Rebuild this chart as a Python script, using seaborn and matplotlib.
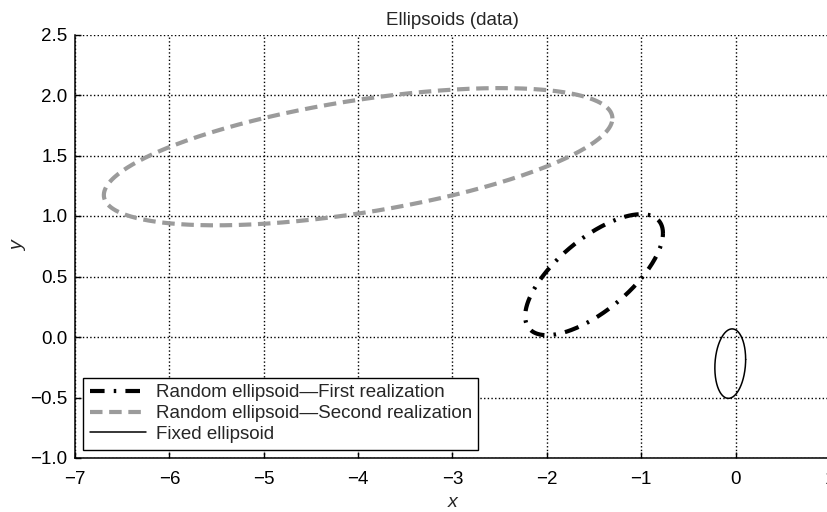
import matplotlib
matplotlib.use("Agg")
import matplotlib.pyplot as plt
import numpy as np
import seaborn as sns
import pandas as pd

# ===== ellipsoid parameters (center + shape matrix) =====
labels = ['Random ellipsoid\u2014First realization',
          'Random ellipsoid\u2014Second realization',
          'Fixed ellipsoid']
centers_x = [-1.50, -4.00, -0.057]
centers_y = [0.515, 1.49, -0.22]
q11 = [0.533, 7.26, 0.0266]
q12 = [0.250, 0.854, 0.0057]
q22 = [0.250, 0.3215, 0.0824]

x_ticks = [-7, -6, -5, -4, -3, -2, -1, 0, 1]
y_ticks = [-1.0, -0.5, 0.0, 0.5, 1.0, 1.5, 2.0, 2.5]

# ===== boundary points of each ellipsoid =====
t = np.linspace(0, 2 * np.pi, 400)
frames = []
for i in range(3):
    Q = np.array([[q11[i], q12[i]], [q12[i], q22[i]]])
    L = np.linalg.cholesky(Q)
    pts = L @ np.vstack([np.cos(t), np.sin(t)])
    frames.append(pd.DataFrame({'x': centers_x[i] + pts[0],
                                'y': centers_y[i] + pts[1],
                                'name': labels[i]}))

sns.set_style("ticks")
plt.rcParams['font.family'] = ['Liberation Sans', 'DejaVu Sans']
plt.rcParams['font.size'] = 13.5

fig = plt.figure(figsize=(8.28, 5.12), dpi=100)
ax = fig.add_axes([75 / 828, 54 / 512, 755 / 828, 423.5 / 512])

styles = [dict(color='black', linewidth=3, linestyle=(0, (3.5, 2.2, 0.6, 2.2))),
          dict(color='#9b9b9b', linewidth=3, linestyle=(0, (3, 1.6))),
          dict(color='black', linewidth=1.1, linestyle='-')]

for df, st in zip(frames, styles):
    sns.lineplot(data=df, x='x', y='y', sort=False, estimator=None,
                 label=df['name'].iloc[0], ax=ax, **st)

ax.set_xlim(-7, 1)
ax.set_ylim(-1, 2.5)
ax.set_xticks(x_ticks)
ax.set_yticks(y_ticks)
ax.set_xticklabels([str(v).replace('-', '\u2212') for v in x_ticks])
ax.set_yticklabels([f'{v:.1f}'.replace('-', '\u2212') for v in y_ticks])
ax.grid(True, color='black', linestyle=':', linewidth=1.0)
ax.tick_params(direction='in', length=4, width=1, labelsize=13.5, colors='black')
ax.tick_params(axis='x', pad=9)
ax.tick_params(axis='y', pad=5.5)
sns.despine(ax=ax, top=True, right=True)
for s in ['left', 'bottom']:
    ax.spines[s].set_color('black')
    ax.spines[s].set_linewidth(1.1)

ax.set_title('Ellipsoids (data)', fontsize=13.5, pad=7)
ax.set_xlabel('x', fontstyle='italic', fontsize=14, labelpad=5)
ax.set_ylabel('y', fontstyle='italic', fontsize=14, labelpad=2)

leg = ax.legend(loc='lower left', fancybox=False, edgecolor='black', framealpha=1,
                fontsize=13.5, handlelength=3.0, handletextpad=0.5,
                labelspacing=0.2, borderpad=0.35, borderaxespad=0.45)
leg.get_frame().set_linewidth(1.0)

fig.savefig('out.png', dpi=100)
